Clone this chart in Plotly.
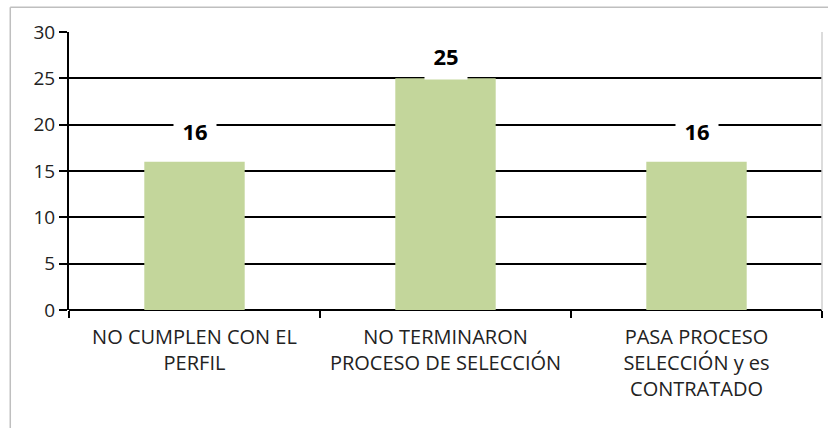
import plotly.graph_objects as go

categories = ["NO CUMPLEN CON EL<br>PERFIL",
              "NO TERMINARON<br>PROCESO DE SELECCIÓN",
              "PASA PROCESO<br>SELECCIÓN y es<br>CONTRATADO"]
values = [16, 25, 16]
y_ticks = [0, 5, 10, 15, 20, 25, 30]

FONT = "Open Sans"
label_shift = [31, 22, 31]   # px above the bar top, as in the original

fig = go.Figure()
fig.add_trace(go.Bar(
    x=categories, y=values,
    marker=dict(color="#c3d69b", line=dict(width=0)),
    width=0.4,
))

# value labels with a white box that hides the gridlines behind them
for c, v, s in zip(categories, values, label_shift):
    fig.add_annotation(x=c, y=v, text="<b>%d</b>" % v, showarrow=False,
                       yshift=s, bgcolor="white", width=40, height=44,
                       font=dict(family=FONT, size=22, color="black"))

# outer chart frame (left and top edges visible)
fig.add_shape(type="line", xref="paper", yref="paper",
              x0=-0.078, x1=-0.078, y0=1.089, y1=-0.5,
              line=dict(color="#bfbfbf", width=1.5))
fig.add_shape(type="line", xref="paper", yref="paper",
              x0=-0.078, x1=1.2, y0=1.089, y1=1.089,
              line=dict(color="#bfbfbf", width=1.5))
# right border of the plot area
fig.add_shape(type="line", xref="paper", yref="paper",
              x0=1, x1=1, y0=0, y1=1,
              line=dict(color="#d0d0d0", width=1.5))

fig.update_layout(
    width=828, height=428,
    margin=dict(l=69, r=6, t=32, b=118),
    plot_bgcolor="white", paper_bgcolor="white",
    showlegend=False,
    font=dict(family=FONT, size=20, color="#222222"),
    xaxis=dict(
        type="category", tickson="boundaries",
        ticks="outside", ticklen=7, tickcolor="black", tickwidth=1.5,
        ticklabelstandoff=13,
        showline=False, showgrid=False,
        tickfont=dict(family=FONT, size=20, color="#222222"),
    ),
    yaxis=dict(
        range=[0, 30], tickvals=y_ticks,
        ticks="outside", ticklen=8, tickcolor="black", tickwidth=1.5,
        showline=True, linecolor="black", linewidth=2,
        showgrid=True, gridcolor="black", gridwidth=2,
        zeroline=True, zerolinecolor="black", zerolinewidth=2,
        tickfont=dict(family=FONT, size=19, color="#222222"),
    ),
)

fig.write_html("out.html", config={"responsive": False, "displayModeBar": False},
               post_script="document.body.style.margin='0';"
                           "document.body.style.overflow='hidden';")
